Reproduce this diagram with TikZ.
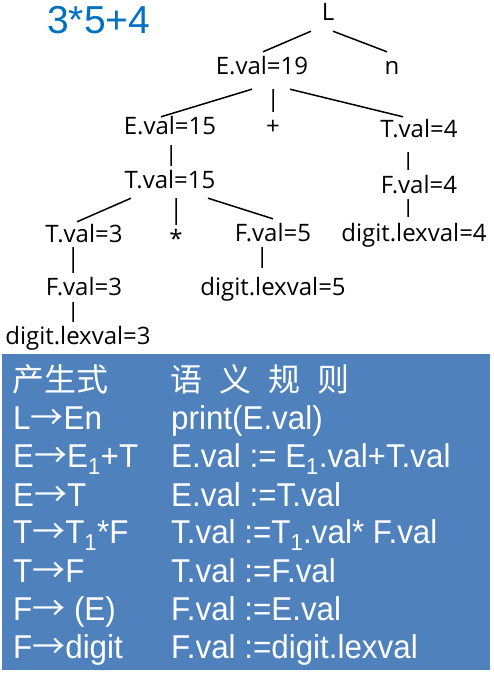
\documentclass[tikz,border=0pt]{standalone}
\usepackage{fontspec}
\setmainfont{Open Sans}
\newfontfamily\tabfont{Liberation Sans}[FakeStretch=0.95]
\newfontfamily\titlefont{Liberation Sans}
\newfontfamily\cjkfont{Noto Sans CJK SC}
\usetikzlibrary{positioning}
\definecolor{titleblue}{RGB}{0,112,192}
\definecolor{boxblue}{RGB}{79,129,189}
\newcommand*{\yields}{{\cjkfont →}}
\tikzset{
  attr/.style = {font=\fontsize{24}{28}\selectfont, text height=18pt,
                 text depth=5pt, inner sep=2pt, anchor=base},
  branch/.style = {draw, line width=1.5pt},
  rule/.style = {font=\tabfont\fontsize{33}{38}\selectfont, text=white,
                 inner sep=0pt, anchor=base west}
}

\begin{document}
\begin{tikzpicture}[x=1pt, y=-1pt]
		\useasboundingbox (0,0) rectangle (494,673);
		\node[font=\titlefont\fontsize{39}{44}\selectfont, text=titleblue,
		      inner sep=0pt, anchor=base west] (expr) at (47,33) {3*5+4};
		% parse tree
		\node[attr] (L)   at (328,20)  {L};
		\node[attr] (E19) at (262,74)  {E.val=19};
		\node[attr] (n)   at (392,74)  {n};
		\node[attr] (E15) at (170,134) {E.val=15};
		\node[attr] (plus) at (273,134) {+};
		\node[attr] (T4)  at (419,137) {T.val=4};
		\node[attr] (T15) at (170,188) {T.val=15};
		\node[attr] (F4)  at (419,193) {F.val=4};
		\node[attr] (T3)  at (84,242)  {T.val=3};
		\node[attr] (ast) at (176,247) {*};
		\node[attr] (F5)  at (273,241) {F.val=5};
		\node[attr] (dl4) at (414,241) {digit.lexval=4};
		\node[attr] (F3)  at (84,295)  {F.val=3};
		\node[attr] (dl5) at (273,295) {digit.lexval=5};
		\node[attr] (dl3) at (78,344)  {digit.lexval=3};
		\path[branch]
			([shift={(-17pt,-4pt)}]L.south) -- ([shift={(1pt,2pt)}]E19.north)
			([shift={(5pt,-4pt)}]L.south) -- ([shift={(-5pt,2pt)}]n.north)
			([shift={(-10pt,-8pt)}]E19.south) -- ([shift={(-9pt,-3pt)}]E15.north)
			([shift={(11pt,-8pt)}]E19.south) -- ([shift={(0pt,2pt)}]plus.north)
			([shift={(28pt,-8pt)}]E19.south) -- ([shift={(-16pt,0pt)}]T4.north)
			([shift={(1pt,-4pt)}]E15.south) -- ([shift={(1pt,2pt)}]T15.north)
			([shift={(-11pt,-8pt)}]T4.south) -- ([shift={(-11pt,3pt)}]F4.north)
			([shift={(-11pt,1pt)}]F4.south) -- ([shift={(-6pt,4pt)}]dl4.north)
			([shift={(-39pt,-3pt)}]T15.south) -- ([shift={(-7pt,0pt)}]T3.north)
			([shift={(6pt,-3pt)}]T15.south) -- ([shift={(0pt,2pt)}]ast.north)
			([shift={(38pt,-3pt)}]T15.south) -- ([shift={(0pt,2pt)}]F5.north)
			([shift={(-11pt,2pt)}]T3.south) -- ([shift={(-11pt,2pt)}]F3.north)
			([shift={(-11pt,1pt)}]F5.south) -- ([shift={(-11pt,7pt)}]dl5.north)
			([shift={(-11pt,0pt)}]F3.south) -- ([shift={(-5pt,2pt)}]dl3.north);
		% table of rules
		\fill[boxblue] (2,354) rectangle (490,670);
		\node[rule, font=\cjkfont\fontsize{32}{36}\selectfont] (hd1) at (12,391) {产生式};
		\node[rule, font=\cjkfont\fontsize{32}{36}\selectfont] (hd2) at (170,391)
			{\spaceskip=17pt 语 义 规 则};
		\node[rule] (p1) at (13,429) {L\yields En};
		\node[rule] (s1) at (171,429) {print(E.val)};
		\node[rule] (p2) at (13,467) {E\yields E\textsubscript{1}+T};
		\node[rule] (s2) at (171,467) {E.val := E\textsubscript{1}.val+T.val};
		\node[rule] (p3) at (13,506) {E\yields T};
		\node[rule] (s3) at (171,506) {E.val :=T.val};
		\node[rule] (p4) at (13,543) {T\yields T\textsubscript{1}*F};
		\node[rule] (s4) at (171,543) {T.val :=T\textsubscript{1}.val* F.val};
		\node[rule] (p5) at (13,582) {T\yields F};
		\node[rule] (s5) at (171,582) {T.val :=F.val};
		\node[rule] (p6) at (13,620) {F\yields{} (E)};
		\node[rule] (s6) at (171,620) {F.val :=E.val};
		\node[rule] (p7) at (13,658) {F\yields digit};
		\node[rule] (s7) at (171,658) {F.val :=digit.lexval};
\end{tikzpicture}
\end{document}
